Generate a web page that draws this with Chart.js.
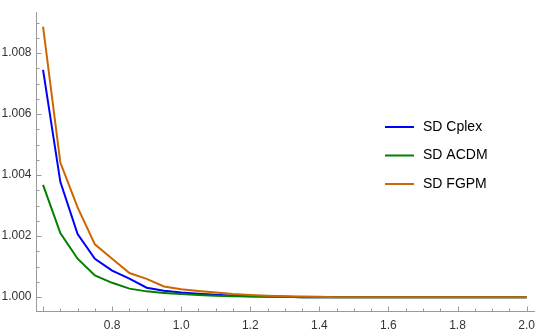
<!DOCTYPE html>
<html>
<head>
<meta charset="utf-8">
<script src="https://cdn.jsdelivr.net/npm/chart.js@4"></script>
<style>
  html, body { margin: 0; padding: 0; background: #fff; }
  #wrap { width: 542px; height: 332px; }
</style>
</head>
<body>
<div id="wrap"><canvas id="chart" width="542" height="332"></canvas></div>
<script>
// x values (step 0.05)
const xs = [0.60, 0.65, 0.70, 0.75, 0.80, 0.85, 0.90, 0.95, 1.00, 1.05, 1.10, 1.15, 1.20, 1.25, 1.30,
            1.35, 1.40, 1.45, 1.50, 1.55, 1.60, 1.65, 1.70, 1.75, 1.80, 1.85, 1.90, 1.95, 2.00];

const sdCplex = [1.00745, 1.00378, 1.00207, 1.00126, 1.00087, 1.00061, 1.00031, 1.00021, 1.00015, 1.00011,
                 1.00008, 1.00005, 1.00003, 1.00002, 1.00001, 1.00000, 1.00000, 1.00000, 1.00000, 1.00000,
                 1.00000, 1.00000, 1.00000, 1.00000, 1.00000, 1.00000, 1.00000, 1.00000, 1.00000];
const sdACDM  = [1.00368, 1.00210, 1.00126, 1.00071, 1.00047, 1.00028, 1.00019, 1.00014, 1.00010, 1.00007,
                 1.00005, 1.00003, 1.00002, 1.00001, 1.00001, 1.00000, 1.00000, 1.00000, 1.00000, 1.00000,
                 1.00000, 1.00000, 1.00000, 1.00000, 1.00000, 1.00000, 1.00000, 1.00000, 1.00000];
const sdFGPM  = [1.00887, 1.00441, 1.00294, 1.00173, 1.00126, 1.00079, 1.00060, 1.00035, 1.00026, 1.00020,
                 1.00015, 1.00010, 1.00007, 1.00005, 1.00003, 1.00002, 1.00001, 1.00000, 1.00000, 1.00000,
                 1.00000, 1.00000, 1.00000, 1.00000, 1.00000, 1.00000, 1.00000, 1.00000, 1.00000];

const seriesNames = ['SD Cplex', 'SD ACDM', 'SD FGPM'];
const seriesColors = ['#0000ff', '#008000', '#cc6600'];

const xTickValues = [0.6, 0.8, 1.0, 1.2, 1.4, 1.6, 1.8, 2.0];
const yTickValues = [1.000, 1.002, 1.004, 1.006, 1.008];

const X_MIN = 0.581, X_MAX = 2.024;
const Y_MIN = 0.99953, Y_MAX = 1.00934;

const AXIS_COLOR = '#9a9a9a';

Chart.defaults.font.family = "'Liberation Sans', Arial, sans-serif";

function pts(ys) {
    return xs.map((x, i) => ({ x: x, y: ys[i] }));
}

// Mathematica-style ticks that point into the plot
const inwardTicks = {
    id: 'inwardTicks',
    afterDraw(chart) {
        const { ctx, chartArea } = chart;
        const sx = chart.scales.x, sy = chart.scales.y;
        ctx.save();
        ctx.strokeStyle = AXIS_COLOR;
        ctx.lineWidth = 1;
        ctx.beginPath();
        // x: minor every 0.05, major every 0.2
        for (let i = 0; i <= 28; i++) {
            const v = 0.6 + i * 0.05;
            const px = Math.round(sx.getPixelForValue(v)) + 0.5;
            const len = (i % 4 === 0) ? 5 : 3;
            ctx.moveTo(px, chartArea.bottom);
            ctx.lineTo(px, chartArea.bottom - len);
        }
        // y: minor every 0.0005, major every 0.002
        for (let i = 0; i <= 18; i++) {
            const v = 1 + i * 0.0005;
            const py = Math.round(sy.getPixelForValue(v)) + 0.5;
            const len = (i % 4 === 0) ? 5 : 3;
            ctx.moveTo(chartArea.left, py);
            ctx.lineTo(chartArea.left + len, py);
        }
        ctx.stroke();
        ctx.restore();
    }
};

// legend inside the plot area, lines + labels
const innerLegend = {
    id: 'innerLegend',
    afterDraw(chart) {
        const { ctx } = chart;
        const x0 = 385, y0 = 127, rowH = 28.5;
        ctx.save();
        ctx.font = "14px 'Liberation Sans', Arial, sans-serif";
        ctx.textBaseline = 'middle';
        ctx.textAlign = 'left';
        chart.data.datasets.forEach(function(ds, i) {
            const y = y0 + i * rowH;
            ctx.strokeStyle = ds.borderColor;
            ctx.lineWidth = 2;
            ctx.beginPath();
            ctx.moveTo(x0, y);
            ctx.lineTo(x0 + 29, y);
            ctx.stroke();
            ctx.fillStyle = '#000';
            ctx.fillText(ds.label, x0 + 38, y);
        });
        ctx.restore();
    }
};

new Chart(document.getElementById('chart'), {
    type: 'line',
    data: {
        datasets: [
            { label: seriesNames[0], data: pts(sdCplex), borderColor: seriesColors[0], order: 3 },
            { label: seriesNames[1], data: pts(sdACDM),  borderColor: seriesColors[1], order: 2 },
            { label: seriesNames[2], data: pts(sdFGPM),  borderColor: seriesColors[2], order: 1 }
        ]
    },
    options: {
        responsive: false,
        animation: false,
        devicePixelRatio: 1,
        layout: { padding: { left: 0, right: 4, top: 0, bottom: 0 } },
        elements: {
            line: { borderWidth: 2, tension: 0, fill: false },
            point: { radius: 0 }
        },
        scales: {
            x: {
                type: 'linear',
                min: X_MIN, max: X_MAX,
                grid: { display: false, drawTicks: false },
                border: { display: true, color: AXIS_COLOR, width: 1 },
                afterBuildTicks: s => { s.ticks = xTickValues.map(v => ({ value: v })); },
                afterFit: s => { s.height = 20.5; },
                ticks: {
                    padding: 7,
                    maxRotation: 0,
                    color: '#333',
                    font: { size: 12 },
                    callback: v => (Math.abs(v - 0.6) < 1e-9 ? '' : v.toFixed(1))
                }
            },
            y: {
                type: 'linear',
                min: Y_MIN, max: Y_MAX,
                grid: { display: false, drawTicks: false },
                border: { display: true, color: AXIS_COLOR, width: 1 },
                afterBuildTicks: s => { s.ticks = yTickValues.map(v => ({ value: v })); },
                afterFit: s => { s.width = 36.5; },
                ticks: {
                    padding: 5,
                    color: '#333',
                    font: { size: 12 },
                    callback: v => v.toFixed(3)
                }
            }
        },
        plugins: {
            legend: { display: false },
            tooltip: { enabled: false }
        }
    },
    plugins: [inwardTicks, innerLegend]
});
</script>
</body>
</html>
